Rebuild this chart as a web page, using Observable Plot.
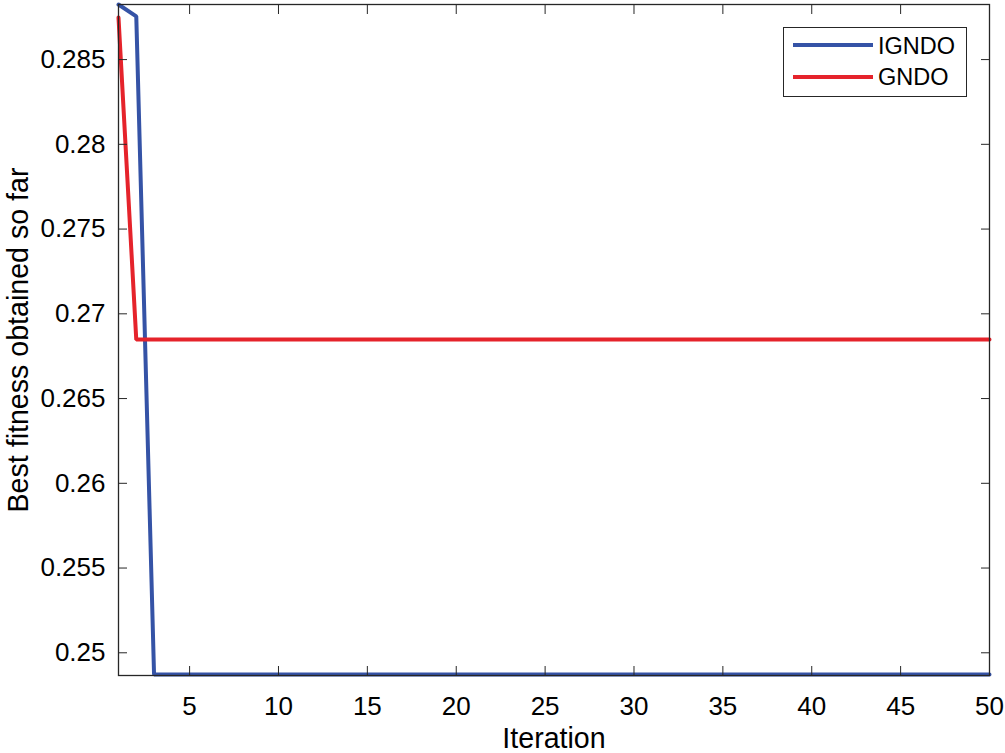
<!DOCTYPE html>
<html>
<head>
<meta charset="utf-8">
<script src="https://cdn.jsdelivr.net/npm/d3@7"></script>
<script src="https://cdn.jsdelivr.net/npm/@observablehq/plot@0.6"></script>
<style>
  html, body { margin: 0; padding: 0; background: #fff; }
  #wrap { position: relative; width: 1005px; height: 753px; font-family: "Liberation Sans", Arial, sans-serif; }
  #legend { position: absolute; left: 783px; top: 27px; width: 184px; height: 70px; border: 1px solid #262626; background: #fff; box-sizing: border-box; }
  .sw { position: absolute; left: 9px; width: 80px; height: 0; border-top: 4px solid; }
  .lb { position: absolute; left: 94px; font-size: 23.5px; line-height: 1; color: #000; white-space: nowrap; }
</style>
</head>
<body>
<div id="wrap"></div>
<script>
const iterations = [1,2,3,4,5,6,7,8,9,10,11,12,13,14,15,16,17,18,19,20,21,22,23,24,25,26,27,28,29,30,31,32,33,34,35,36,37,38,39,40,41,42,43,44,45,46,47,48,49,50];
const igndo = [0.28825,0.28755,0.24872,0.24872,0.24872,0.24872,0.24872,0.24872,0.24872,0.24872,
  0.24872,0.24872,0.24872,0.24872,0.24872,0.24872,0.24872,0.24872,0.24872,0.24872,
  0.24872,0.24872,0.24872,0.24872,0.24872,0.24872,0.24872,0.24872,0.24872,0.24872,
  0.24872,0.24872,0.24872,0.24872,0.24872,0.24872,0.24872,0.24872,0.24872,0.24872,
  0.24872,0.24872,0.24872,0.24872,0.24872,0.24872,0.24872,0.24872,0.24872,0.24872];
const gndo = [0.28748,0.26848,0.26848,0.26848,0.26848,0.26848,0.26848,0.26848,0.26848,0.26848,
  0.26848,0.26848,0.26848,0.26848,0.26848,0.26848,0.26848,0.26848,0.26848,0.26848,
  0.26848,0.26848,0.26848,0.26848,0.26848,0.26848,0.26848,0.26848,0.26848,0.26848,
  0.26848,0.26848,0.26848,0.26848,0.26848,0.26848,0.26848,0.26848,0.26848,0.26848,
  0.26848,0.26848,0.26848,0.26848,0.26848,0.26848,0.26848,0.26848,0.26848,0.26848];
const xTicks = [5,10,15,20,25,30,35,40,45,50];
const yTicks = [0.25,0.255,0.26,0.265,0.27,0.275,0.28,0.285];
const yTickLabels = ["0.25","0.255","0.26","0.265","0.27","0.275","0.28","0.285"];
const seriesNames = ["IGNDO","GNDO"];
const seriesColors = ["#3553a6","#e5232b"];

const rows = [];
iterations.forEach((it, i) => {
  rows.push({iter: it, value: igndo[i], series: seriesNames[0]});
});
iterations.forEach((it, i) => {
  rows.push({iter: it, value: gndo[i], series: seriesNames[1]});
});

const axisColor = "#262626";
const chart = Plot.plot({
  width: 1005,
  height: 753,
  marginLeft: 118,
  marginRight: 16,
  marginTop: 4,
  marginBottom: 78,
  style: {fontFamily: "'Liberation Sans', Arial, sans-serif", fontSize: "26px", color: "#000", background: "#fff"},
  x: {domain: [1, 50]},
  y: {domain: [0.24866, 0.28825]},
  color: {domain: seriesNames, range: seriesColors},
  marks: [
    Plot.line(rows, {x: "iter", y: "value", z: "series", stroke: "series", strokeWidth: 4, strokeLinejoin: "miter"}),
    Plot.frame({stroke: axisColor, strokeWidth: 1.3}),
    Plot.axisX(xTicks, {anchor: "bottom", tickSize: -9, tickPadding: 30, stroke: axisColor, fill: "#000", fontSize: 26, label: null}),
    Plot.axisX(xTicks, {anchor: "top", tickSize: -9, tickFormat: () => "", stroke: axisColor, label: null}),
    Plot.axisY(yTicks, {anchor: "left", tickSize: -9, tickPadding: 22, stroke: axisColor, fill: "#000", fontSize: 26, tickFormat: (d) => yTickLabels[yTicks.indexOf(d)], label: null}),
    Plot.axisY(yTicks, {anchor: "right", tickSize: -9, tickFormat: () => "", stroke: axisColor, label: null}),
    Plot.text(["Iteration"], {frameAnchor: "bottom", dy: 72, lineAnchor: "bottom", fontSize: 28.6, fill: "#000", textAnchor: "middle"}),
    Plot.text(["Best fitness obtained so far"], {frameAnchor: "left", dx: -100, rotate: -90, fontSize: 28.6, fill: "#000", textAnchor: "middle"})
  ]
});
const wrap = document.getElementById("wrap");
wrap.appendChild(chart);

const legend = document.createElement("div");
legend.id = "legend";
const lineTops = [15, 47];
const labelTops = [6.5, 38];
seriesNames.forEach((name, i) => {
  const sw = document.createElement("div");
  sw.className = "sw";
  sw.style.top = lineTops[i] + "px";
  sw.style.borderTopColor = seriesColors[i];
  const lb = document.createElement("div");
  lb.className = "lb";
  lb.style.top = labelTops[i] + "px";
  lb.textContent = name;
  legend.appendChild(sw);
  legend.appendChild(lb);
});
wrap.appendChild(legend);
</script>
</body>
</html>
